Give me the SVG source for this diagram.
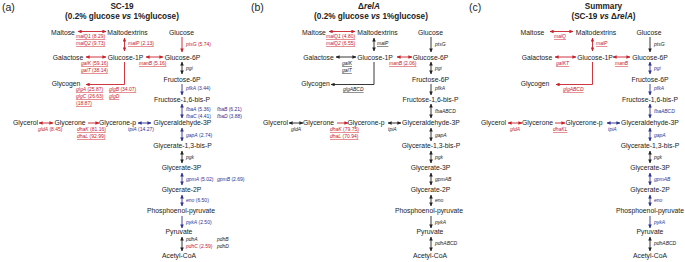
<svg xmlns="http://www.w3.org/2000/svg" width="685" height="262" viewBox="0 0 685 262">
<style>
text{font-family:"Liberation Sans",Arial,sans-serif}
.n{font-size:6.8px;fill:#222;text-anchor:middle}
.t{font-size:8.2px;font-weight:bold;fill:#222;text-anchor:middle}
.p{font-size:10.5px;fill:#222}
.g{font-size:5px}
.i{font-style:italic}
.r{fill:#c8202a}.b{fill:#2e3192}.k{fill:#222}
.u{text-decoration:underline}
.cr,.cb,.ck{fill:none;stroke-width:0.9}
.cr{stroke:#c8202a}.cb{stroke:#2e3192}.ck{stroke:#222}
.cr.d{marker-start:url(#mr);marker-end:url(#mr)}.cr.s{marker-end:url(#mr)}
.cb.d{marker-start:url(#mb);marker-end:url(#mb)}.cb.s{marker-end:url(#mb)}
.ck.d{marker-start:url(#mk);marker-end:url(#mk)}.ck.s{marker-end:url(#mk)}
</style>
<defs>
<marker id="mr" markerUnits="userSpaceOnUse" markerWidth="4" markerHeight="3.6" viewBox="0 0 4 3.6" refX="3.6" refY="1.8" orient="auto-start-reverse"><path d="M0,0L4,1.8L0,3.6z" fill="#c8202a"/></marker>
<marker id="mb" markerUnits="userSpaceOnUse" markerWidth="4" markerHeight="3.6" viewBox="0 0 4 3.6" refX="3.6" refY="1.8" orient="auto-start-reverse"><path d="M0,0L4,1.8L0,3.6z" fill="#2e3192"/></marker>
<marker id="mk" markerUnits="userSpaceOnUse" markerWidth="4" markerHeight="3.6" viewBox="0 0 4 3.6" refX="3.6" refY="1.8" orient="auto-start-reverse"><path d="M0,0L4,1.8L0,3.6z" fill="#222"/></marker>
</defs>

<g id="titles">
<text class="p" x="2" y="10.5">(a)</text>
<text class="t" x="122" y="8.5">SC-19</text>
<text class="t" x="122" y="19">(0.2% glucose <tspan class="i">vs</tspan> 1%glucose)</text>
<text class="p" x="251" y="10.5">(b)</text>
<text class="t" x="369" y="8.5">Δ<tspan class="i">relA</tspan></text>
<text class="t" x="371" y="19">(0.2% glucose <tspan class="i">vs</tspan> 1%glucose)</text>
<text class="p" x="469" y="10.5">(c)</text>
<text class="t" x="603.5" y="8.5">Summary</text>
<text class="t" x="603.5" y="19">(SC-19 <tspan class="i">vs</tspan> Δ<tspan class="i">relA</tspan>)</text>
</g>

<!-- Panel A -->
<g id="panelA">
<g id="a-connectors">
<path class="cr d" d="M78,31.5H106"/>
<path class="cr d" d="M124.5,38V51"/>
<path class="cr s" d="M182,37V52"/>
<path class="cr d" d="M86,57H106"/>
<path class="cr d" d="M146,57H163"/>
<path class="ck d" d="M182,62V74"/>
<path class="cr s" d="M124.5,62V84.5H86"/>
<path class="cb s" d="M182,84V95"/>
<path class="cb d" d="M182,104V118"/>
<path class="cr d" d="M39,123H53"/>
<path class="cr s" d="M88,123H99"/>
<path class="cb d" d="M138,123H151"/>
<path class="cb d" d="M182,128V141"/>
<path class="ck d" d="M182,151V163"/>
<path class="cb d" d="M182,173V185"/>
<path class="cb d" d="M182,195V206"/>
<path class="cb s" d="M182,216V228"/>
<path class="ck d" d="M182,237V251"/>
</g>
<g id="a-labels">
<text class="g r u" x="76" y="38"><tspan class="i">malQ1</tspan> (8.29)</text>
<text class="g r u" x="76" y="45"><tspan class="i">malQ2</tspan> (9.73)</text>
<text class="g r u" x="128" y="45"><tspan class="i">malP</tspan> (2.13)</text>
<text class="g r" x="186" y="46"><tspan class="i">ptsG</tspan> (5.74)</text>
<text class="g r u" x="81" y="65"><tspan class="i">galK</tspan> (59.16)</text>
<text class="g r u" x="81" y="72"><tspan class="i">galT</tspan> (38.14)</text>
<text class="g r u" x="139" y="65"><tspan class="i">manB</tspan> (5.16)</text>
<text class="g k i" x="186" y="70">pgi</text>
<text class="g r u" x="76" y="91"><tspan class="i">glgA</tspan> (25.87)</text>
<text class="g r u" x="109" y="91"><tspan class="i">glgB</tspan> (34.07)</text>
<text class="g r u" x="76" y="98"><tspan class="i">glgC</tspan> (26.63)</text>
<text class="g r u i" x="109" y="98">glgD</text>
<text class="g r u" x="76" y="105">(18.87)</text>
<text class="g b" x="186" y="90"><tspan class="i">pfkA</tspan> (3.44)</text>
<text class="g b" x="186" y="110.5"><tspan class="i">fbaA</tspan> (5.36)</text>
<text class="g b" x="186" y="117.5"><tspan class="i">fbaC</tspan> (4.41)</text>
<text class="g b" x="217" y="110.5"><tspan class="i">fbaB</tspan> (6.21)</text>
<text class="g b" x="217" y="117.5"><tspan class="i">fbaD</tspan> (3.88)</text>
<text class="g r" x="38" y="131"><tspan class="i">gldA</tspan> (8.45)</text>
<text class="g r u" x="77" y="131"><tspan class="i">dhaK</tspan> (81.16)</text>
<text class="g r u" x="77" y="138"><tspan class="i">dhaL</tspan> (92.99)</text>
<text class="g b" x="128" y="131"><tspan class="i">tpiA</tspan> (14.27)</text>
<text class="g b" x="186" y="137"><tspan class="i">gapA</tspan> (2.74)</text>
<text class="g k i" x="186" y="158.5">pgk</text>
<text class="g b" x="186" y="180.5"><tspan class="i">gpmA</tspan> (5.02)</text>
<text class="g b" x="217" y="180.5"><tspan class="i">gpmB</tspan> (2.69)</text>
<text class="g b" x="186" y="202"><tspan class="i">eno</tspan> (6.50)</text>
<text class="g b" x="186" y="223.5"><tspan class="i">pykA</tspan> (2.50)</text>
<text class="g k i" x="186" y="241">pdhA</text>
<text class="g r" x="186" y="248"><tspan class="i">pdhC</tspan> (2.59)</text>
<text class="g k i" x="217" y="241">pdhB</text>
<text class="g k i" x="217" y="248">pdhD</text>
</g>
<g id="a-maltose"><text class="n" x="63" y="34.8">Maltose</text></g>
<g id="a-maltodextrins"><text class="n" x="127.5" y="34.8">Maltodextrins</text></g>
<g id="a-glucose"><text class="n" x="181.5" y="34.8">Glucose</text></g>
<g id="a-galactose"><text class="n" x="68" y="59.8">Galactose</text></g>
<g id="a-glucose1p"><text class="n" x="125.5" y="59.8">Glucose-1P</text></g>
<g id="a-glucose6p"><text class="n" x="182.5" y="59.8">Glucose-6P</text></g>
<g id="a-glycogen"><text class="n" x="66" y="85.5">Glycogen</text></g>
<g id="a-fructose6p"><text class="n" x="182" y="81.5">Fructose-6P</text></g>
<g id="a-f16bp"><text class="n" x="182" y="101.5">Fructose-1,6-bis-P</text></g>
<g id="a-glycerol"><text class="n" x="25.5" y="125">Glycerol</text></g>
<g id="a-glycerone"><text class="n" x="70" y="125">Glycerone</text></g>
<g id="a-glyceronep"><text class="n" x="117.5" y="125">Glycerone-p</text></g>
<g id="a-g3p"><text class="n" x="182.5" y="125">Glyceraldehyde-3P</text></g>
<g id="a-g13bp"><text class="n" x="182.5" y="148">Glycerate-1,3-bis-P</text></g>
<g id="a-glycerate3p"><text class="n" x="181.5" y="170">Glycerate-3P</text></g>
<g id="a-glycerate2p"><text class="n" x="181.5" y="191.5">Glycerate-2P</text></g>
<g id="a-pep"><text class="n" x="181" y="213">Phosphoenol-pyruvate</text></g>
<g id="a-pyruvate"><text class="n" x="179" y="234">Pyruvate</text></g>
<g id="a-acetylcoa"><text class="n" x="179" y="257.5">Acetyl-CoA</text></g>
</g>

<!-- Panel B -->
<g id="panelB" transform="translate(249,0)">
<g id="b-connectors">
<path class="cr d" d="M80,31.5H106"/>
<path class="ck d" d="M125,38V51"/>
<path class="ck s" d="M182,37V52"/>
<path class="ck d" d="M87,57H107"/>
<path class="cr d" d="M148,57H163"/>
<path class="ck d" d="M182,62V74"/>
<path class="ck s" d="M125,62V84.5H82"/>
<path class="ck s" d="M182,84V95"/>
<path class="ck d" d="M182,104V118"/>
<path class="ck d" d="M40,123H54"/>
<path class="cr s" d="M88,123H99"/>
<path class="ck d" d="M139,123H152"/>
<path class="ck d" d="M182,128V141"/>
<path class="ck d" d="M182,151V163"/>
<path class="ck d" d="M182,173V185"/>
<path class="ck d" d="M182,195V206"/>
<path class="ck s" d="M182,216V228"/>
<path class="ck d" d="M182,237V251"/>
</g>
<g id="b-labels">
<text class="g r u" x="77" y="38"><tspan class="i">malQ1</tspan> (4.80)</text>
<text class="g r u" x="77" y="45"><tspan class="i">malQ2</tspan> (6.55)</text>
<text class="g k u i" x="128" y="45">malP</text>
<text class="g k i" x="186" y="46">ptsG</text>
<text class="g k u i" x="93" y="65">galK</text>
<text class="g k u i" x="93" y="72">galT</text>
<text class="g r u" x="140" y="65"><tspan class="i">manB</tspan> (2.06)</text>
<text class="g k i" x="186" y="70">pgi</text>
<text class="g k u i" x="94" y="91">glgABCD</text>
<text class="g k i" x="186" y="90">pfkA</text>
<text class="g k i" x="186" y="113">fbaABCD</text>
<text class="g k i" x="42" y="131">gldA</text>
<text class="g r u" x="81" y="131"><tspan class="i">dhaK</tspan> (79.75)</text>
<text class="g r u" x="81" y="138"><tspan class="i">dhaL</tspan> (70.94)</text>
<text class="g k i" x="139" y="131">tpiA</text>
<text class="g k i" x="186" y="137">gapA</text>
<text class="g k i" x="186" y="158.5">pgk</text>
<text class="g k i" x="186" y="180.5">gpmAB</text>
<text class="g k i" x="186" y="202">eno</text>
<text class="g k i" x="186" y="223.5">pykA</text>
<text class="g k i" x="186" y="245">pdhABCD</text>
</g>
<g id="b-maltose"><text class="n" x="65" y="34.8">Maltose</text></g>
<g id="b-maltodextrins"><text class="n" x="128.5" y="34.8">Maltodextrins</text></g>
<g id="b-glucose"><text class="n" x="181.5" y="34.8">Glucose</text></g>
<g id="b-galactose"><text class="n" x="69.5" y="59.8">Galactose</text></g>
<g id="b-glucose1p"><text class="n" x="126" y="59.8">Glucose-1P</text></g>
<g id="b-glucose6p"><text class="n" x="181.5" y="59.8">Glucose-6P</text></g>
<g id="b-glycogen"><text class="n" x="66.5" y="85.5">Glycogen</text></g>
<g id="b-fructose6p"><text class="n" x="181.5" y="81.5">Fructose-6P</text></g>
<g id="b-f16bp"><text class="n" x="181.5" y="101.5">Fructose-1,6-bis-P</text></g>
<g id="b-glycerol"><text class="n" x="26.5" y="125">Glycerol</text></g>
<g id="b-glycerone"><text class="n" x="69.5" y="125">Glycerone</text></g>
<g id="b-glyceronep"><text class="n" x="117" y="125">Glycerone-p</text></g>
<g id="b-g3p"><text class="n" x="182" y="125">Glyceraldehyde-3P</text></g>
<g id="b-g13bp"><text class="n" x="182" y="148">Glycerate-1,3-bis-P</text></g>
<g id="b-glycerate3p"><text class="n" x="181.5" y="170">Glycerate-3P</text></g>
<g id="b-glycerate2p"><text class="n" x="181.5" y="191.5">Glycerate-2P</text></g>
<g id="b-pep"><text class="n" x="180" y="213">Phosphoenol-pyruvate</text></g>
<g id="b-pyruvate"><text class="n" x="181" y="234">Pyruvate</text></g>
<g id="b-acetylcoa"><text class="n" x="181" y="257.5">Acetyl-CoA</text></g>
</g>

<!-- Panel C -->
<g id="panelC" transform="translate(468,0)">
<g id="c-connectors">
<path class="cr d" d="M82,31.5H105"/>
<path class="cr d" d="M124.5,38V51"/>
<path class="ck s" d="M182,37V52"/>
<path class="cr d" d="M87,57H108"/>
<path class="cr d" d="M145,57H162"/>
<path class="cb d" d="M182,62V74"/>
<path class="cr s" d="M124.5,62V84.5H88"/>
<path class="cb s" d="M182,84V95"/>
<path class="cb d" d="M182,104V118"/>
<path class="cr d" d="M40,123H54"/>
<path class="cr s" d="M87,123H97"/>
<path class="cb d" d="M139,123H152"/>
<path class="cb d" d="M182,128V141"/>
<path class="ck d" d="M182,151V163"/>
<path class="cb d" d="M182,173V185"/>
<path class="cb d" d="M182,195V206"/>
<path class="cb s" d="M182,216V228"/>
<path class="ck d" d="M182,237V251"/>
</g>
<g id="c-labels">
<text class="g r u i" x="86" y="38">malQ</text>
<text class="g r u i" x="128" y="45">malP</text>
<text class="g k i" x="186" y="46">ptsG</text>
<text class="g r u i" x="88" y="65">galKT</text>
<text class="g r u i" x="147" y="65">manB</text>
<text class="g b i" x="186" y="70">pgi</text>
<text class="g r u i" x="95" y="91">glgABCD</text>
<text class="g b i" x="186" y="90">pfkA</text>
<text class="g b i" x="186" y="113">fbaABCD</text>
<text class="g r i" x="42" y="131">gldA</text>
<text class="g r u i" x="85" y="131">dhaKL</text>
<text class="g b i" x="140" y="131">tpiA</text>
<text class="g b i" x="186" y="137">gapA</text>
<text class="g k i" x="186" y="158.5">pgk</text>
<text class="g b i" x="186" y="180.5">gpmAB</text>
<text class="g b i" x="186" y="202">eno</text>
<text class="g b i" x="186" y="223.5">pykA</text>
<text class="g k i" x="186" y="245">pdhABCD</text>
</g>
<g id="c-maltose"><text class="n" x="64.5" y="34.8">Maltose</text></g>
<g id="c-maltodextrins"><text class="n" x="128" y="34.8">Maltodextrins</text></g>
<g id="c-glucose"><text class="n" x="181" y="34.8">Glucose</text></g>
<g id="c-galactose"><text class="n" x="69" y="59.8">Galactose</text></g>
<g id="c-glucose1p"><text class="n" x="127" y="59.8">Glucose-1P</text></g>
<g id="c-glucose6p"><text class="n" x="182" y="59.8">Glucose-6P</text></g>
<g id="c-glycogen"><text class="n" x="67" y="85.5">Glycogen</text></g>
<g id="c-fructose6p"><text class="n" x="182" y="81.5">Fructose-6P</text></g>
<g id="c-f16bp"><text class="n" x="182" y="101.5">Fructose-1,6-bis-P</text></g>
<g id="c-glycerol"><text class="n" x="25.5" y="125">Glycerol</text></g>
<g id="c-glycerone"><text class="n" x="69.5" y="125">Glycerone</text></g>
<g id="c-glyceronep"><text class="n" x="116" y="125">Glycerone-p</text></g>
<g id="c-g3p"><text class="n" x="182" y="125">Glyceraldehyde-3P</text></g>
<g id="c-g13bp"><text class="n" x="182" y="148">Glycerate-1,3-bis-P</text></g>
<g id="c-glycerate3p"><text class="n" x="182" y="170">Glycerate-3P</text></g>
<g id="c-glycerate2p"><text class="n" x="182" y="191.5">Glycerate-2P</text></g>
<g id="c-pep"><text class="n" x="182" y="213">Phosphoenol-pyruvate</text></g>
<g id="c-pyruvate"><text class="n" x="182" y="234">Pyruvate</text></g>
<g id="c-acetylcoa"><text class="n" x="182" y="257.5">Acetyl-CoA</text></g>
</g>
</svg>
